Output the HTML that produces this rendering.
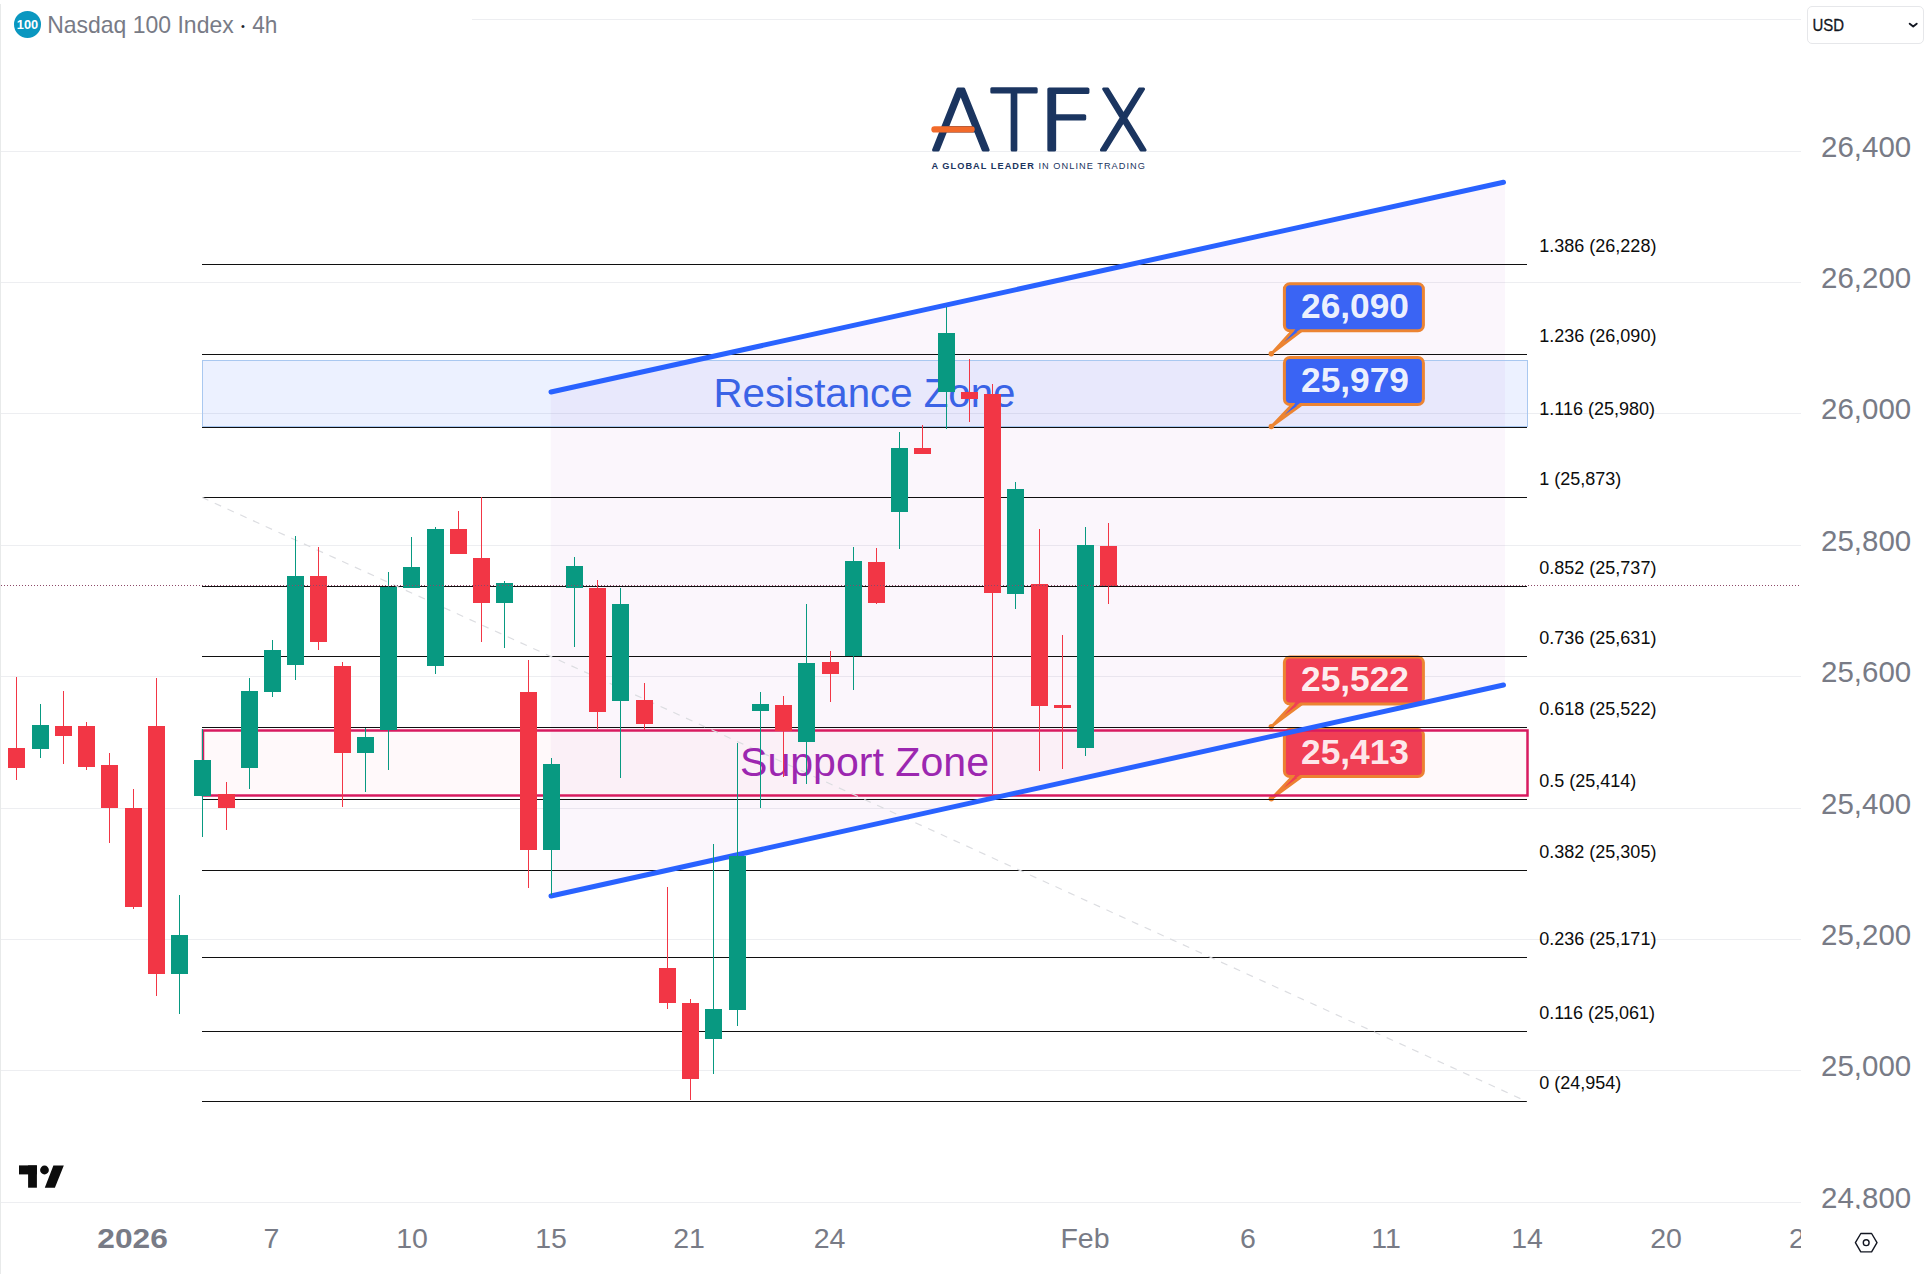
<!DOCTYPE html>
<html lang="en"><head><meta charset="utf-8"><title>Nasdaq 100 Index 4h</title>
<style>html,body{margin:0;padding:0;background:#fff;}body{width:1930px;height:1274px;overflow:hidden;}svg{display:block;}text{font-family:"Liberation Sans", "DejaVu Sans", sans-serif;}text.lg{font-family:"DejaVu Sans Light","DejaVu Sans","Liberation Sans",sans-serif;font-weight:200;}</style>
</head><body>
<svg width="1930" height="1274" viewBox="0 0 1930 1274" role="img" aria-label="Nasdaq 100 Index 4h chart">
<defs><clipPath id="cpP"><rect x="1800" y="0" width="130" height="1209"/></clipPath><clipPath id="cpT"><rect x="0" y="1205" width="1801" height="69"/></clipPath></defs>
<rect width="1930" height="1274" fill="#ffffff"/>
<rect x="0" y="4" width="1" height="1270" fill="#e8eaea"/>
<g stroke="#edeef1" stroke-width="1">
<line x1="472" y1="19.5" x2="1801" y2="19.5"/>
<line x1="1" y1="151.5" x2="1801" y2="151.5"/>
<line x1="1" y1="282.5" x2="1801" y2="282.5"/>
<line x1="1" y1="413.5" x2="1801" y2="413.5"/>
<line x1="1" y1="545.5" x2="1801" y2="545.5"/>
<line x1="1" y1="676.5" x2="1801" y2="676.5"/>
<line x1="1" y1="808.5" x2="1801" y2="808.5"/>
<line x1="1" y1="939.5" x2="1801" y2="939.5"/>
<line x1="1" y1="1070.5" x2="1801" y2="1070.5"/>
<line x1="1" y1="1202.5" x2="1801" y2="1202.5"/>
</g>
<polygon points="550.8,392 1505,182 1505,684.5 550.8,896" fill="#9c27b0" fill-opacity="0.045"/>
<g><path d="M1293.4 703.1 L1272.5 725.6 L1302.9 703.1 Z" fill="#f03f55" stroke="#ec8432" stroke-width="2.8" stroke-linejoin="round"/><rect x="1284.4" y="657.1" width="139" height="47" rx="5.5" ry="5.5" fill="#f03f55" stroke="#ec8432" stroke-width="3"/><path d="M1295.9 701.6 L1290.4 710.1 L1301.4 701.6 Z" fill="#f03f55"/><circle cx="1271.3" cy="726.6" r="2.7" fill="#ec8432"/><text x="1301" y="691.4" font-size="34.5" font-weight="700" fill="#ffffff" fill-opacity="0.93" textLength="108" lengthAdjust="spacingAndGlyphs">25,522</text></g>
<g><path d="M1293.4 775.6 L1272.5 797.8 L1302.9 775.6 Z" fill="#f03f55" stroke="#ec8432" stroke-width="2.8" stroke-linejoin="round"/><rect x="1284.4" y="729.6" width="139" height="47" rx="5.5" ry="5.5" fill="#f03f55" stroke="#ec8432" stroke-width="3"/><path d="M1295.9 774.1 L1290.4 782.6 L1301.4 774.1 Z" fill="#f03f55"/><circle cx="1271.3" cy="798.8" r="2.7" fill="#ec8432"/><text x="1301" y="763.9" font-size="34.5" font-weight="700" fill="#ffffff" fill-opacity="0.93" textLength="108" lengthAdjust="spacingAndGlyphs">25,413</text></g>
<rect x="202.5" y="360.5" width="1325" height="66" fill="#2962ff" fill-opacity="0.09" stroke="#a9c8f0" stroke-width="1"/>
<rect x="203" y="730.5" width="1324.5" height="65" fill="#f23645" fill-opacity="0.028" stroke="#d81b60" stroke-width="2.5"/>
<g stroke="#101010" stroke-width="1.15">
<line x1="202" y1="264.5" x2="1527" y2="264.5"/>
<line x1="202" y1="354.5" x2="1527" y2="354.5"/>
<line x1="202" y1="427.5" x2="1527" y2="427.5"/>
<line x1="202" y1="497.5" x2="1527" y2="497.5"/>
<line x1="202" y1="586.5" x2="1527" y2="586.5"/>
<line x1="202" y1="656.5" x2="1527" y2="656.5"/>
<line x1="202" y1="727.5" x2="1527" y2="727.5"/>
<line x1="202" y1="799.5" x2="1527" y2="799.5"/>
<line x1="202" y1="870.5" x2="1527" y2="870.5"/>
<line x1="202" y1="957.5" x2="1527" y2="957.5"/>
<line x1="202" y1="1031.5" x2="1527" y2="1031.5"/>
<line x1="202" y1="1101.5" x2="1527" y2="1101.5"/>
</g>
<g font-size="18" fill="#0c0c0c">
<text x="1539.3" y="251.9">1.386 (26,228)</text>
<text x="1539.3" y="341.9">1.236 (26,090)</text>
<text x="1539.3" y="414.9">1.116 (25,980)</text>
<text x="1539.3" y="484.9">1 (25,873)</text>
<text x="1539.3" y="573.9">0.852 (25,737)</text>
<text x="1539.3" y="643.9">0.736 (25,631)</text>
<text x="1539.3" y="714.9">0.618 (25,522)</text>
<text x="1539.3" y="786.9">0.5 (25,414)</text>
<text x="1539.3" y="857.9">0.382 (25,305)</text>
<text x="1539.3" y="944.9">0.236 (25,171)</text>
<text x="1539.3" y="1018.9">0.116 (25,061)</text>
<text x="1539.3" y="1088.9">0 (24,954)</text>
</g>
<line x1="202" y1="497.4" x2="1527" y2="1101.6" stroke="#dcdde1" stroke-width="1.2" stroke-dasharray="7 7"/>
<g><path d="M1293.4 329.7 L1272.5 352.7 L1302.9 329.7 Z" fill="#3a64f4" stroke="#ec8432" stroke-width="2.8" stroke-linejoin="round"/><rect x="1284.4" y="283.7" width="139" height="47" rx="5.5" ry="5.5" fill="#3a64f4" stroke="#ec8432" stroke-width="3"/><path d="M1295.9 328.2 L1290.4 336.7 L1301.4 328.2 Z" fill="#3a64f4"/><circle cx="1271.3" cy="353.7" r="2.7" fill="#ec8432"/><text x="1301" y="318" font-size="34.5" font-weight="700" fill="#ffffff" fill-opacity="0.93" textLength="108" lengthAdjust="spacingAndGlyphs">26,090</text></g>
<g><path d="M1293.4 403.5 L1272.5 425.5 L1302.9 403.5 Z" fill="#3a64f4" stroke="#ec8432" stroke-width="2.8" stroke-linejoin="round"/><rect x="1284.4" y="357.5" width="139" height="47" rx="5.5" ry="5.5" fill="#3a64f4" stroke="#ec8432" stroke-width="3"/><path d="M1295.9 402 L1290.4 410.5 L1301.4 402 Z" fill="#3a64f4"/><circle cx="1271.3" cy="426.5" r="2.7" fill="#ec8432"/><text x="1301" y="391.8" font-size="34.5" font-weight="700" fill="#ffffff" fill-opacity="0.93" textLength="108" lengthAdjust="spacingAndGlyphs">25,979</text></g>
<g stroke="#2962ff" stroke-width="5" stroke-linecap="round">
<line x1="551" y1="392" x2="1503.5" y2="182.3"/>
<line x1="551" y1="896" x2="1503.5" y2="685"/>
</g>
<text x="713.5" y="406.5" font-size="40" fill="#3a63e6" textLength="302" lengthAdjust="spacingAndGlyphs">Resistance Zone</text>
<text x="740" y="775.5" font-size="40" fill="#9c27b0" textLength="249" lengthAdjust="spacingAndGlyphs">Support Zone</text>
<g shape-rendering="crispEdges">
<rect x="16" y="677" width="1" height="103" fill="#f23645"/>
<rect x="8" y="748" width="17" height="20" fill="#f23645"/>
<rect x="40" y="704" width="1" height="54" fill="#089981"/>
<rect x="32" y="725" width="17" height="24" fill="#089981"/>
<rect x="63" y="691" width="1" height="73" fill="#f23645"/>
<rect x="55" y="726" width="17" height="10" fill="#f23645"/>
<rect x="86" y="722" width="1" height="48" fill="#f23645"/>
<rect x="78" y="726" width="17" height="41" fill="#f23645"/>
<rect x="109" y="753" width="1" height="90" fill="#f23645"/>
<rect x="101" y="765" width="17" height="43" fill="#f23645"/>
<rect x="133" y="789" width="1" height="120" fill="#f23645"/>
<rect x="125" y="808" width="17" height="99" fill="#f23645"/>
<rect x="156" y="678" width="1" height="318" fill="#f23645"/>
<rect x="148" y="726" width="17" height="248" fill="#f23645"/>
<rect x="179" y="895" width="1" height="119" fill="#089981"/>
<rect x="171" y="935" width="17" height="39" fill="#089981"/>
<rect x="202" y="729" width="1" height="108" fill="#089981"/>
<rect x="194" y="760" width="17" height="36" fill="#089981"/>
<rect x="226" y="782" width="1" height="48" fill="#f23645"/>
<rect x="218" y="794" width="17" height="14" fill="#f23645"/>
<rect x="249" y="678" width="1" height="111" fill="#089981"/>
<rect x="241" y="691" width="17" height="77" fill="#089981"/>
<rect x="272" y="640" width="1" height="57" fill="#089981"/>
<rect x="264" y="650" width="17" height="42" fill="#089981"/>
<rect x="295" y="536" width="1" height="144" fill="#089981"/>
<rect x="287" y="576" width="17" height="89" fill="#089981"/>
<rect x="318" y="547" width="1" height="103" fill="#f23645"/>
<rect x="310" y="576" width="17" height="66" fill="#f23645"/>
<rect x="342" y="662" width="1" height="145" fill="#f23645"/>
<rect x="334" y="666" width="17" height="87" fill="#f23645"/>
<rect x="365" y="728" width="1" height="64" fill="#089981"/>
<rect x="357" y="737" width="17" height="16" fill="#089981"/>
<rect x="388" y="572" width="1" height="198" fill="#089981"/>
<rect x="380" y="587" width="17" height="143" fill="#089981"/>
<rect x="411" y="537" width="1" height="51" fill="#089981"/>
<rect x="403" y="567" width="17" height="21" fill="#089981"/>
<rect x="435" y="527" width="1" height="147" fill="#089981"/>
<rect x="427" y="529" width="17" height="137" fill="#089981"/>
<rect x="458" y="511" width="1" height="43" fill="#f23645"/>
<rect x="450" y="529" width="17" height="25" fill="#f23645"/>
<rect x="481" y="497" width="1" height="145" fill="#f23645"/>
<rect x="473" y="558" width="17" height="45" fill="#f23645"/>
<rect x="504" y="581" width="1" height="67" fill="#089981"/>
<rect x="496" y="583" width="17" height="20" fill="#089981"/>
<rect x="528" y="660" width="1" height="228" fill="#f23645"/>
<rect x="520" y="692" width="17" height="158" fill="#f23645"/>
<rect x="551" y="758" width="1" height="137" fill="#089981"/>
<rect x="543" y="764" width="17" height="86" fill="#089981"/>
<rect x="574" y="557" width="1" height="90" fill="#089981"/>
<rect x="566" y="566" width="17" height="22" fill="#089981"/>
<rect x="597" y="580" width="1" height="149" fill="#f23645"/>
<rect x="589" y="588" width="17" height="124" fill="#f23645"/>
<rect x="620" y="588" width="1" height="190" fill="#089981"/>
<rect x="612" y="604" width="17" height="97" fill="#089981"/>
<rect x="644" y="683" width="1" height="47" fill="#f23645"/>
<rect x="636" y="700" width="17" height="24" fill="#f23645"/>
<rect x="667" y="887" width="1" height="122" fill="#f23645"/>
<rect x="659" y="968" width="17" height="35" fill="#f23645"/>
<rect x="690" y="999" width="1" height="101" fill="#f23645"/>
<rect x="682" y="1003" width="17" height="76" fill="#f23645"/>
<rect x="713" y="844" width="1" height="230" fill="#089981"/>
<rect x="705" y="1009" width="17" height="30" fill="#089981"/>
<rect x="737" y="743" width="1" height="283" fill="#089981"/>
<rect x="729" y="856" width="17" height="154" fill="#089981"/>
<rect x="760" y="692" width="1" height="116" fill="#089981"/>
<rect x="752" y="704" width="17" height="7" fill="#089981"/>
<rect x="783" y="696" width="1" height="81" fill="#f23645"/>
<rect x="775" y="705" width="17" height="26" fill="#f23645"/>
<rect x="806" y="604" width="1" height="180" fill="#089981"/>
<rect x="798" y="663" width="17" height="79" fill="#089981"/>
<rect x="830" y="651" width="1" height="51" fill="#f23645"/>
<rect x="822" y="662" width="17" height="12" fill="#f23645"/>
<rect x="853" y="547" width="1" height="143" fill="#089981"/>
<rect x="845" y="561" width="17" height="95" fill="#089981"/>
<rect x="876" y="548" width="1" height="56" fill="#f23645"/>
<rect x="868" y="562" width="17" height="41" fill="#f23645"/>
<rect x="899" y="432" width="1" height="117" fill="#089981"/>
<rect x="891" y="448" width="17" height="64" fill="#089981"/>
<rect x="922" y="425" width="1" height="29" fill="#f23645"/>
<rect x="914" y="448" width="17" height="6" fill="#f23645"/>
<rect x="946" y="307" width="1" height="122" fill="#089981"/>
<rect x="938" y="333" width="17" height="59" fill="#089981"/>
<rect x="969" y="359" width="1" height="63" fill="#f23645"/>
<rect x="961" y="392" width="17" height="7" fill="#f23645"/>
<rect x="992" y="384" width="1" height="410" fill="#f23645"/>
<rect x="984" y="394" width="17" height="199" fill="#f23645"/>
<rect x="1015" y="482" width="1" height="127" fill="#089981"/>
<rect x="1007" y="489" width="17" height="105" fill="#089981"/>
<rect x="1039" y="529" width="1" height="242" fill="#f23645"/>
<rect x="1031" y="584" width="17" height="122" fill="#f23645"/>
<rect x="1062" y="635" width="1" height="134" fill="#f23645"/>
<rect x="1054" y="705" width="17" height="3" fill="#f23645"/>
<rect x="1085" y="527" width="1" height="229" fill="#089981"/>
<rect x="1077" y="545" width="17" height="203" fill="#089981"/>
<rect x="1108" y="523" width="1" height="81" fill="#f23645"/>
<rect x="1100" y="546" width="17" height="40" fill="#f23645"/>
</g>
<line x1="1" y1="585.5" x2="1800" y2="585.5" stroke="#8c4a68" stroke-width="1" stroke-dasharray="1 2" shape-rendering="crispEdges"/>
<g clip-path="url(#cpP)" font-size="29.8" fill="#787b86">
<text x="1821" y="157.1" textLength="90.2" lengthAdjust="spacingAndGlyphs">26,400</text>
<text x="1821" y="288.1" textLength="90.2" lengthAdjust="spacingAndGlyphs">26,200</text>
<text x="1821" y="419.1" textLength="90.2" lengthAdjust="spacingAndGlyphs">26,000</text>
<text x="1821" y="551.1" textLength="90.2" lengthAdjust="spacingAndGlyphs">25,800</text>
<text x="1821" y="682.1" textLength="90.2" lengthAdjust="spacingAndGlyphs">25,600</text>
<text x="1821" y="814.1" textLength="90.2" lengthAdjust="spacingAndGlyphs">25,400</text>
<text x="1821" y="945.1" textLength="90.2" lengthAdjust="spacingAndGlyphs">25,200</text>
<text x="1821" y="1076.1" textLength="90.2" lengthAdjust="spacingAndGlyphs">25,000</text>
<text x="1821" y="1208.1" textLength="90.2" lengthAdjust="spacingAndGlyphs">24,800</text>
</g>
<g clip-path="url(#cpT)" font-size="28.5" fill="#787b86" text-anchor="middle">
<text x="132.6" y="1248.3" font-weight="700" textLength="70.5" lengthAdjust="spacingAndGlyphs">2026</text>
<text x="271.4" y="1248.3">7</text>
<text x="412" y="1248.3">10</text>
<text x="551" y="1248.3">15</text>
<text x="689" y="1248.3">21</text>
<text x="829.5" y="1248.3">24</text>
<text x="1085" y="1248.3">Feb</text>
<text x="1248" y="1248.3">6</text>
<text x="1386" y="1248.3">11</text>
<text x="1527" y="1248.3">14</text>
<text x="1666" y="1248.3">20</text>
<text x="1788.9" y="1248.3" text-anchor="start">26</text>
</g>
<g fill="none" stroke="#131722" stroke-width="1.4" stroke-linejoin="round"><polygon points="1855.4,1242.7 1860.8,1233.5 1871.6,1233.5 1877,1242.7 1871.6,1251.9 1860.8,1251.9"/><circle cx="1866.2" cy="1242.7" r="2.9"/></g>
<g fill="#0c0c0c"><rect x="19" y="1165.4" width="17.9" height="9"/><rect x="28.1" y="1165.4" width="8.8" height="22.3"/><circle cx="44.5" cy="1170" r="4.4"/><polygon points="53.4,1165.4 63.8,1165.4 54.9,1187.7 44.8,1187.7"/></g>
<circle cx="27.5" cy="24.4" r="13.5" fill="#0a97c0"/>
<text x="27.5" y="28.8" font-size="12.4" font-weight="700" fill="#ffffff" text-anchor="middle" textLength="21.4" lengthAdjust="spacingAndGlyphs">100</text>
<text x="47.2" y="32.9" font-size="23.6" fill="#787b86" textLength="186.5" lengthAdjust="spacingAndGlyphs">Nasdaq 100 Index</text>
<text x="243" y="29.6" font-size="11" fill="#20232b" text-anchor="middle">•</text>
<text x="252.2" y="32.9" font-size="23.6" fill="#787b86" textLength="25.2" lengthAdjust="spacingAndGlyphs">4h</text>
<rect x="1807.5" y="6.5" width="116" height="37" rx="4.5" ry="4.5" fill="#ffffff" stroke="#e6e7ea" stroke-width="1"/>
<text x="1812.4" y="30.8" font-size="17.4" fill="#131722" stroke="#131722" stroke-width="0.3" textLength="31.6" lengthAdjust="spacingAndGlyphs">USD</text>
<path d="M1909.7 23.7 L1913.2 26.5 L1916.7 23.7" fill="none" stroke="#131722" stroke-width="1.9" stroke-linecap="round" stroke-linejoin="round"/>
<g font-size="84.2" fill="#1b3560" stroke="#1b3560" stroke-width="3" stroke-linejoin="round" stroke-linecap="round">
<text class="lg" y="149.9"><tspan x="931" textLength="60" lengthAdjust="spacingAndGlyphs">A</tspan><tspan x="990" textLength="48" lengthAdjust="spacingAndGlyphs">T</tspan><tspan x="1036.5" textLength="59.8" lengthAdjust="spacingAndGlyphs">F</tspan><tspan x="1096.7" textLength="52.8" lengthAdjust="spacingAndGlyphs">X</tspan></text>
</g>
<line x1="934.4" y1="129.4" x2="971.6" y2="129.4" stroke="#f26a2a" stroke-width="6.2" stroke-linecap="round"/>
<text x="931.4" y="168.6" font-size="9.2" fill="#1b3560" textLength="213.5" lengthAdjust="spacing"><tspan font-weight="700">A GLOBAL LEADER</tspan> IN ONLINE TRADING</text>
</svg></body></html>
